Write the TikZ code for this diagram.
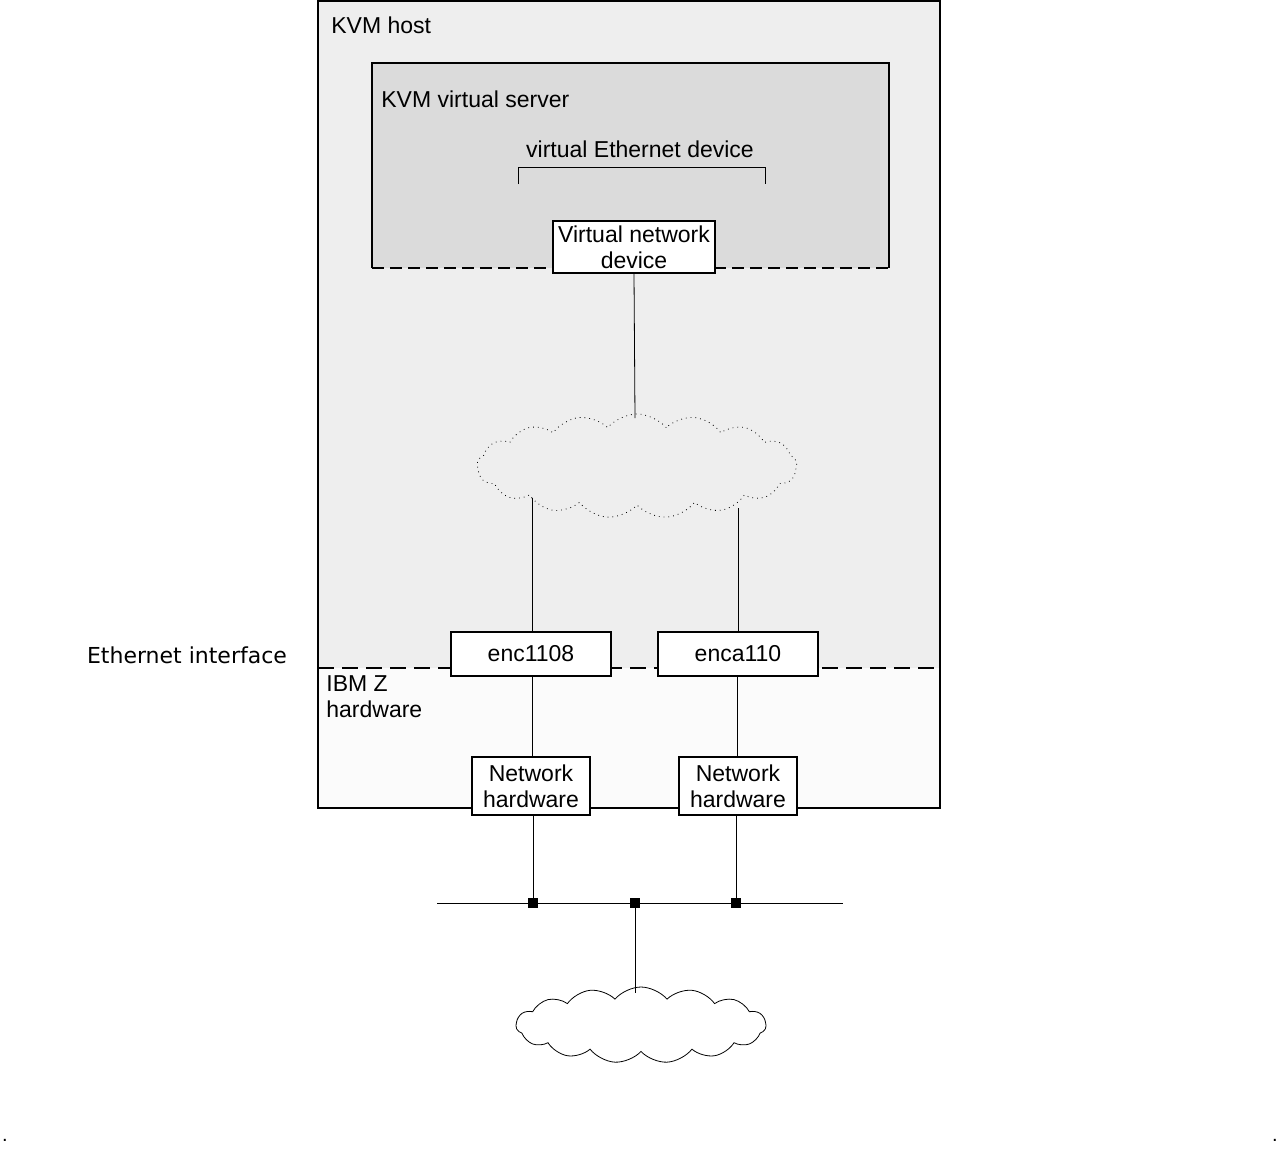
\documentclass[tikz,border=0pt]{standalone}
\usepackage{fontspec}
\setmainfont{Liberation Sans}
\newfontfamily\comic{DejaVu Sans}
\usetikzlibrary{shapes.symbols}
\begin{document}
\begin{tikzpicture}[x=0.5pt,y=-0.5pt,
  box/.style={draw,fill=white,line width=1pt,inner sep=0pt,align=center,font=\fontsize{11.5}{13}\selectfont},
  lbl/.style={anchor=west,inner sep=0pt,font=\fontsize{11.5}{13}\selectfont},
  ln/.style={line width=0.4pt},
  sq/.style={fill=black,minimum size=5pt,inner sep=0pt}]
\useasboundingbox (0,0) rectangle (1280,1151);
\fill[gray!13] (318,1) rectangle (940,668);
\fill[gray!3] (318,668) rectangle (940,808);
\draw[line width=1pt] (318,1) rectangle (940,808);
\draw[line width=1.3pt,dash pattern=on 8pt off 4pt] (318,668) -- (934,668);
\node[lbl] at (331,25) {KVM host};
\fill[gray!28] (372,63) rectangle (889,268);
\draw[line width=1pt] (372,268) -- (372,63) -- (889,63) -- (889,268);
\draw[line width=1.3pt,dash pattern=on 6pt off 3pt] (372,268) -- (889,268);
\node[lbl] at (381,99) {KVM virtual server};
\node[font=\fontsize{11.5}{13}\selectfont] at (640,149) {virtual Ethernet device};
\draw[ln] (518,184) -- (518,167) -- (765,167) -- (765,184);
\node[box,minimum width=81pt,minimum height=26pt] (vnd) at (634,247) {Virtual network\\device};
\node[cloud,draw,dotted,cloud puffs=17,cloud puff arc=100,aspect=3.2,minimum width=160pt,minimum height=52pt,inner sep=0pt] (c1) at (637,466) {};
\coordinate (c1t) at (635,418);
\draw[ln] (vnd.south) -- (c1t);
\node[box,minimum width=80pt,minimum height=22pt] (e1) at (531,654) {enc1108};
\node[box,minimum width=80pt,minimum height=22pt] (e2) at (738,654) {enca110};
\coordinate (c1a) at (532,498);
\coordinate (c1b) at (738,508);
\draw[ln] (c1a) -- (e1.north -| c1a);
\draw[ln] (c1b) -- (e2.north);
\node[anchor=center,inner sep=0pt,font=\comic\fontsize{11}{13}\selectfont] at (187,655) {Ethernet interface};
\node[lbl,align=left,anchor=north west] at (326,675) {IBM Z\\hardware};
\node[box,minimum width=59pt,minimum height=29pt] (n1) at (531,786) {Network\\hardware};
\node[box,minimum width=59pt,minimum height=29pt] (n2) at (738,786) {Network\\hardware};
\draw[ln] (e1.south -| 532,0) -- (n1.north -| 532,0);
\draw[ln] (e2.south -| 737,0) -- (n2.north -| 737,0);
\coordinate (bl) at (437,903);
\coordinate (br) at (843,903);
\draw[ln] (bl) -- (br);
\node[sq] (s1) at (533,903) {};
\node[sq] (s2) at (635,903) {};
\node[sq] (s3) at (736,903) {};
\draw[ln] (n1.south -| s1) -- (s1);
\draw[ln] (n2.south -| s3) -- (s3);
\node[cloud,draw,cloud puffs=15,cloud puff arc=100,aspect=3.2,minimum width=125pt,minimum height=38pt,inner sep=0pt] (c2) at (641,1025) {};
\draw[ln] (s2) -- (635,993);
\node[inner sep=0pt] at (5,1140) {.};
\node[inner sep=0pt] at (1275,1140) {.};
\end{tikzpicture}
\end{document}
